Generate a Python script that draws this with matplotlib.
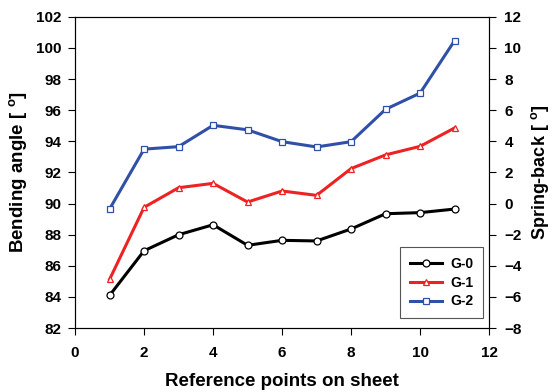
import numpy as np
import matplotlib
matplotlib.use('Agg')
import matplotlib.pyplot as plt

plt.rcParams.update({
    'font.family': 'Liberation Sans',
    'font.weight': 'bold',
    'mathtext.fontset': 'custom',
    'mathtext.rm': 'Liberation Sans:bold',
    'mathtext.bf': 'Liberation Sans:bold',
})

points = [1, 2, 3, 4, 5, 6, 7, 8, 9, 10, 11]
g0 = [84.1, 86.97, 88.0, 88.64, 87.32, 87.64, 87.6, 88.37, 89.35, 89.42, 89.65]
g1 = [85.13, 89.76, 91.02, 91.3, 90.1, 90.81, 90.53, 92.25, 93.13, 93.68, 94.86]
g2 = [89.65, 93.5, 93.66, 95.03, 94.74, 93.98, 93.64, 93.98, 96.06, 97.1, 100.47]

fig = plt.figure(figsize=(5.52, 3.92), dpi=100)
ax = fig.add_axes([0.136, 0.163, 0.75, 0.794])

style = dict(lw=2.2, markersize=5, markerfacecolor='white', markeredgewidth=0.9)
ax.plot(points, g0, color='black', marker='o', label='G-0', **style)
ax.plot(points, g1, color='#ee2222', marker='^', label='G-1', **style)
ax.plot(points, g2, color='#3050a8', marker='s', label='G-2', **style)

ax.set_xlim(0, 12)
ax.set_ylim(82, 102)
ax.set_xticks(np.arange(0, 13, 2))
ax.set_yticks(np.arange(82, 103, 2))
ax.tick_params(direction='out', length=5, width=0.8, labelsize=11, colors='black', pad=5)
ax.tick_params(axis='x', pad=8)
for s in ax.spines.values():
    s.set_linewidth(0.8)
    s.set_color('#333333')

ax2 = ax.twinx()
ax2.set_ylim(-8, 12)
ax2.set_yticks(np.arange(-8, 13, 2))
ax2.tick_params(direction='out', length=5, width=0.8, labelsize=11, pad=6)

ax.set_xlabel('Reference points on sheet', fontsize=13.5, fontweight='bold', labelpad=9)
ax.set_ylabel('Bending angle [ $^\\mathbf{o}$]', fontsize=13.5, fontweight='bold', labelpad=4)
ax2.set_ylabel('Spring-back [ $^\\mathbf{o}$]', fontsize=13, fontweight='bold', labelpad=5)

leg = ax.legend(loc='lower right', bbox_to_anchor=(0.9855, 0.032), borderaxespad=0,
                fontsize=10, fancybox=False, framealpha=1, edgecolor='#555555',
                handlelength=2.3, handletextpad=0.6, borderpad=0.7, labelspacing=0.35)
leg.get_frame().set_linewidth(0.8)

fig.savefig('out.png', dpi=100)
